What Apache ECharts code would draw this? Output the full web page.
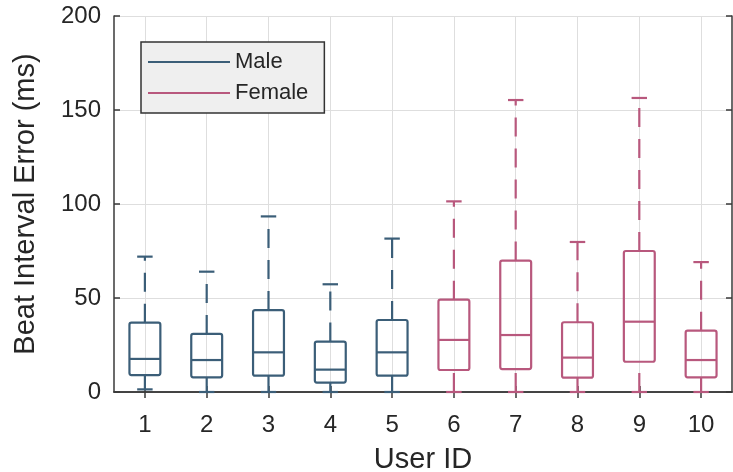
<!DOCTYPE html>
<html><head><meta charset="utf-8">
<script src="https://cdn.jsdelivr.net/npm/echarts@6/dist/echarts.min.js"></script>
<style>html,body{margin:0;padding:0;background:#fff}#c{width:733px;height:472px}</style>
</head><body><div id="c"></div>
<script>
// ---- data ----
const userIds = ['1','2','3','4','5','6','7','8','9','10'];
const maleIdx = [0, 1, 2, 3, 4];
const maleMin = [1.4, 0, 0, 0, 0];
const maleQ1 = [9.0, 7.8, 8.7, 5.0, 8.7];
const maleMedian = [17.6, 17.0, 21.1, 11.9, 21.1];
const maleQ3 = [36.9, 30.9, 43.6, 26.8, 38.3];
const maleMax = [72.0, 64.0, 93.4, 57.3, 81.6];
const femaleIdx = [5, 6, 7, 8, 9];
const femaleMin = [0, 0, 0, 0, 0];
const femaleQ1 = [11.7, 12.2, 7.6, 16.1, 7.8];
const femaleMedian = [27.7, 30.3, 18.3, 37.4, 17.0];
const femaleQ3 = [49.1, 69.9, 37.1, 75.0, 32.6];
const femaleMax = [101.4, 155.3, 79.8, 156.4, 69.1];
const yMin = 0, yMax = 200, yStep = 50;

const MALE = '#3b5e78';
const FEMALE = '#b8587d';
const TXT = '#262626';
const AX = '#3a3a3a';
const FONT = "'Liberation Sans', Arial, sans-serif";

function rows(idx, mn, q1, md, q3, mx) {
  return idx.map((x, i) => [x, mn[i], q1[i], md[i], q3[i], mx[i]]);
}

function renderBox(params, api) {
  const x = api.value(0);
  const lo = api.coord([x, api.value(1)]);
  const q1 = api.coord([x, api.value(2)]);
  const md = api.coord([x, api.value(3)]);
  const q3 = api.coord([x, api.value(4)]);
  const hi = api.coord([x, api.value(5)]);
  const band = api.size([1, 0])[0];
  const bw = band * 0.25;
  const cw = band * 0.125;
  const cx = lo[0];
  const color = api.visual('color');
  const st = { stroke: color, lineWidth: 2.2, fill: null };
  const dash = { stroke: color, lineWidth: 2.2, fill: null, lineDash: [19, 12] };
  return {
    type: 'group',
    children: [
      { type: 'rect', shape: { x: cx - bw, y: q3[1], width: 2 * bw, height: q1[1] - q3[1], r: 2 }, style: st },
      { type: 'line', shape: { x1: cx - bw, y1: md[1], x2: cx + bw, y2: md[1] }, style: st },
      { type: 'line', shape: { x1: cx, y1: q3[1], x2: cx, y2: hi[1] }, style: dash },
      { type: 'line', shape: { x1: cx, y1: lo[1], x2: cx, y2: q1[1] }, style: dash },
      { type: 'line', shape: { x1: cx - cw, y1: hi[1], x2: cx + cw, y2: hi[1] }, style: st },
      { type: 'line', shape: { x1: cx - cw, y1: lo[1], x2: cx + cw, y2: lo[1] }, style: st }
    ]
  };
}

const chart = echarts.init(document.getElementById('c'), null, { renderer: 'canvas' });
chart.setOption({
  animation: false,
  backgroundColor: '#ffffff',
  textStyle: { fontFamily: FONT },
  grid: { left: 114, top: 16, right: 1, bottom: 80, containLabel: false, outerBoundsMode: 'none' },
  legend: {
    orient: 'vertical',
    left: 141, top: 42,
    backgroundColor: '#efefef',
    borderColor: '#333333', borderWidth: 1.5, borderRadius: 0,
    padding: [9, 16, 9, 7],
    itemWidth: 82, itemHeight: 2, itemGap: 9,
    textStyle: { fontSize: 22, color: TXT, fontFamily: FONT, lineHeight: 22 },
    data: [
      { name: 'Male', icon: 'rect', itemStyle: { color: MALE } },
      { name: 'Female', icon: 'rect', itemStyle: { color: FEMALE } }
    ]
  },
  xAxis: [
    {
      type: 'category', data: userIds, position: 'bottom', boundaryGap: true,
      name: 'User ID', nameLocation: 'middle', nameGap: 53,
      nameTextStyle: { fontSize: 29, color: TXT, fontFamily: FONT },
      axisLine: { show: true, lineStyle: { color: AX, width: 1.5 } },
      axisTick: { show: true, inside: true, alignWithLabel: true, length: 6, lineStyle: { color: AX, width: 1.5 } },
      axisLabel: { fontSize: 24, color: TXT, margin: 21, fontFamily: FONT },
      splitLine: { show: true, alignWithLabel: true, lineStyle: { color: '#dedede', width: 1 } }
    },
    {
      type: 'category', data: userIds, position: 'top', boundaryGap: true,
      axisLine: { show: true, lineStyle: { color: AX, width: 1.5 } },
      axisTick: { show: true, inside: true, alignWithLabel: true, length: 6, lineStyle: { color: AX, width: 1.5 } },
      axisLabel: { show: false },
      splitLine: { show: false }
    }
  ],
  yAxis: [
    {
      type: 'value', min: yMin, max: yMax, interval: yStep, position: 'left',
      name: 'Beat Interval Error (ms)', nameLocation: 'middle', nameGap: 74,
      nameTextStyle: { fontSize: 29, color: TXT, fontFamily: FONT },
      axisLine: { show: true, lineStyle: { color: AX, width: 1.5 } },
      axisTick: { show: true, inside: true, length: 6, lineStyle: { color: AX, width: 1.5 } },
      axisLabel: { fontSize: 24, color: TXT, margin: 13, fontFamily: FONT },
      splitLine: { show: true, lineStyle: { color: '#dedede', width: 1 } }
    },
    {
      type: 'value', min: yMin, max: yMax, interval: yStep, position: 'right',
      axisLine: { show: true, lineStyle: { color: AX, width: 1.5 } },
      axisTick: { show: true, inside: true, length: 6, lineStyle: { color: AX, width: 1.5 } },
      axisLabel: { show: false },
      splitLine: { show: false }
    }
  ],
  series: [
    {
      name: 'Male', type: 'custom', renderItem: renderBox,
      itemStyle: { color: MALE },
      encode: { x: 0, y: [1, 2, 3, 4, 5] },
      data: rows(maleIdx, maleMin, maleQ1, maleMedian, maleQ3, maleMax)
    },
    {
      name: 'Female', type: 'custom', renderItem: renderBox,
      itemStyle: { color: FEMALE },
      encode: { x: 0, y: [1, 2, 3, 4, 5] },
      data: rows(femaleIdx, femaleMin, femaleQ1, femaleMedian, femaleQ3, femaleMax)
    }
  ]
});
</script>
</body></html>
